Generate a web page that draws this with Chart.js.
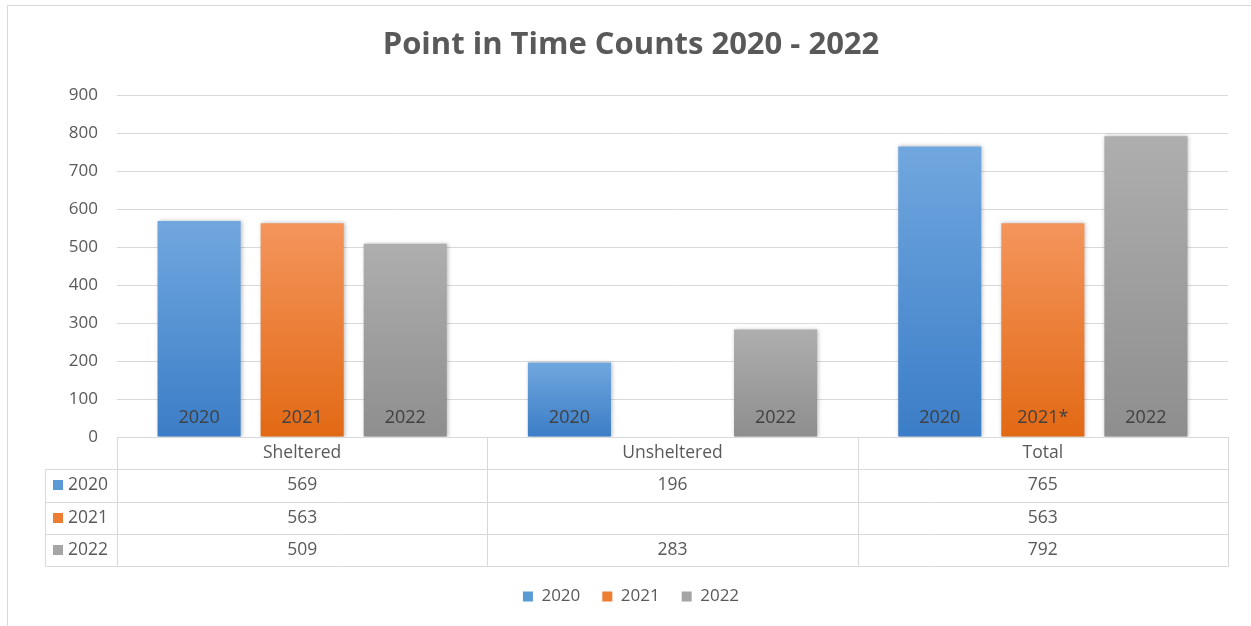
<!DOCTYPE html>
<html lang="en">
<head>
<meta charset="UTF-8">
<title>Point in Time Counts 2020 - 2022</title>
<script src="https://cdn.jsdelivr.net/npm/chart.js@4.4.0/dist/chart.umd.min.js"></script>
<style>
    body { margin: 0; background: #fff; overflow: hidden; }
    #moldura { position: absolute; left: 7px; top: 5px; width: 1300px; height: 700px; border: 1px solid #d9d9d9; }
    #grafico { position: absolute; left: 0; top: 0; }
</style>
</head>
<body>
<div id="moldura"></div>
<canvas id="grafico" width="1251" height="626"></canvas>

<script>
var categorias = ['Sheltered', 'Unsheltered', 'Total'];
var anos = ['2020', '2021', '2022'];
var valores2020 = [569, 196, 765];
var valores2021 = [563, null, 563];
var valores2022 = [509, 283, 792];
var rotulos2020 = ['2020', '2020', '2020'];
var rotulos2021 = ['2021', '', '2021*'];
var rotulos2022 = ['2022', '2022', '2022'];
var ticksY = [0, 100, 200, 300, 400, 500, 600, 700, 800, 900];

// topo, base, cor da legenda
var cores = [
    ['#70a7de', '#3b7dc7', '#5b9bd5'],
    ['#f4955c', '#e26914', '#ed7d31'],
    ['#aeaeae', '#8e8e8e', '#a5a5a5']
];
var fonte = '"Open Sans"';
var cinza = '#595959';

function gradiente(i) {
    return function(ctx) {
        var chart = ctx.chart;
        if (ctx.type !== 'data' || !chart.chartArea || ctx.raw == null) return cores[i][2];
        var y = chart.scales.y;
        var g = chart.ctx.createLinearGradient(0, y.getPixelForValue(ctx.raw), 0, y.getPixelForValue(0));
        g.addColorStop(0, cores[i][0]);
        g.addColorStop(1, cores[i][1]);
        return g;
    };
}

var sombraEtiquetas = {
    id: 'sombraEtiquetas',
    beforeDatasetsDraw: function(chart) {
        var c = chart.ctx;
        c.save();
        c.shadowColor = 'rgba(0,0,0,0.28)';
        c.shadowBlur = 4;
        c.shadowOffsetX = 1;
        c.shadowOffsetY = 0;
    },
    afterDatasetsDraw: function(chart) {
        var c = chart.ctx;
        c.restore();
        c.save();
        c.font = '18px ' + fonte;
        c.fillStyle = '#404040';
        c.textAlign = 'center';
        c.textBaseline = 'middle';
        chart.data.datasets.forEach(function(ds, i) {
            chart.getDatasetMeta(i).data.forEach(function(bar, j) {
                if (ds.data[j] == null) return;
                c.fillText(ds.rotulos[j], bar.x, bar.base - 19);
            });
        });
        c.restore();
    }
};

// tabela de dados embaixo do eixo x
var tabela = {
    id: 'tabela',
    afterDraw: function(chart) {
        var c = chart.ctx;
        var x = chart.scales.x;
        var area = chart.chartArea;
        var topo = area.bottom;
        var alt = 32.25;
        var esq = 45.5;
        var dir = Math.round(area.right) + 0.5;
        var larg = (area.right - area.left) / categorias.length;

        c.save();
        c.strokeStyle = '#d9d9d9';
        c.lineWidth = 1;
        c.beginPath();
        for (var k = 1; k <= 4; k++) {
            var yy = Math.round(topo + k * alt) + 0.5;
            c.moveTo(esq, yy); c.lineTo(dir, yy);
        }
        c.moveTo(esq, Math.round(topo + alt) + 0.5);
        c.lineTo(esq, Math.round(topo + 4 * alt) + 0.5);
        for (var k = 0; k <= categorias.length; k++) {
            var xx = Math.round(area.left + k * larg) + 0.5;
            c.moveTo(xx, topo); c.lineTo(xx, Math.round(topo + 4 * alt) + 0.5);
        }
        c.stroke();

        c.font = '17.5px ' + fonte;
        c.fillStyle = cinza;
        c.textAlign = 'center';
        c.textBaseline = 'middle';
        categorias.forEach(function(cat, j) {
            c.fillText(cat, x.getPixelForValue(j), topo + alt / 2);
        });
        chart.data.datasets.forEach(function(ds, i) {
            var yy = topo + alt * (i + 1.5);
            ds.data.forEach(function(v, j) {
                if (v == null) return;
                c.fillText(String(v), x.getPixelForValue(j), yy);
            });
            c.fillStyle = cores[i][2];
            c.fillRect(53, Math.round(yy - 5), 10, 10);
            c.fillStyle = cinza;
            c.textAlign = 'left';
            c.fillText(ds.label, 68, yy);
            c.textAlign = 'center';
        });
        c.restore();
    }
};

var ctx = document.getElementById('grafico').getContext('2d');
var grafico = new Chart(ctx, {
    type: 'bar',
    data: {
        labels: categorias,
        datasets: [
            { label: anos[0], data: valores2020, rotulos: rotulos2020, backgroundColor: gradiente(0) },
            { label: anos[1], data: valores2021, rotulos: rotulos2021, backgroundColor: gradiente(1) },
            { label: anos[2], data: valores2022, rotulos: rotulos2022, backgroundColor: gradiente(2) }
        ]
    },
    options: {
        responsive: false,
        animation: false,
        categoryPercentage: 0.835,
        barPercentage: 0.806,
        layout: { padding: { left: 34, right: 23, bottom: 11 } },
        plugins: {
            title: {
                display: true,
                text: 'Point in Time Counts 2020 - 2022',
                color: cinza,
                font: { family: fonte, size: 31, weight: 'bold' },
                padding: { top: 27, bottom: 31 }
            },
            legend: {
                position: 'bottom',
                labels: {
                    boxWidth: 10,
                    boxHeight: 10,
                    color: cinza,
                    padding: 22,
                    font: { family: fonte, size: 17 },
                    generateLabels: function(chart) {
                        return chart.data.datasets.map(function(ds, i) {
                            return {
                                text: ds.label,
                                fillStyle: cores[i][2],
                                strokeStyle: cores[i][2],
                                lineWidth: 0,
                                fontColor: cinza,
                                datasetIndex: i
                            };
                        });
                    }
                }
            },
            tooltip: { enabled: false }
        },
        scales: {
            x: {
                grid: { display: false },
                border: { display: false },
                ticks: { display: false },
                afterFit: function(s) { s.height = 129; }
            },
            y: {
                min: 0,
                max: 900,
                afterBuildTicks: function(s) { s.ticks = ticksY.map(function(v) { return { value: v }; }); },
                grid: { color: '#d9d9d9', drawTicks: false },
                border: { display: false },
                ticks: { color: cinza, padding: 19, font: { family: fonte, size: 17 } },
                afterFit: function(s) { s.width = 83; }
            }
        }
    },
    plugins: [sombraEtiquetas, tabela]
});
</script>
</body>
</html>
